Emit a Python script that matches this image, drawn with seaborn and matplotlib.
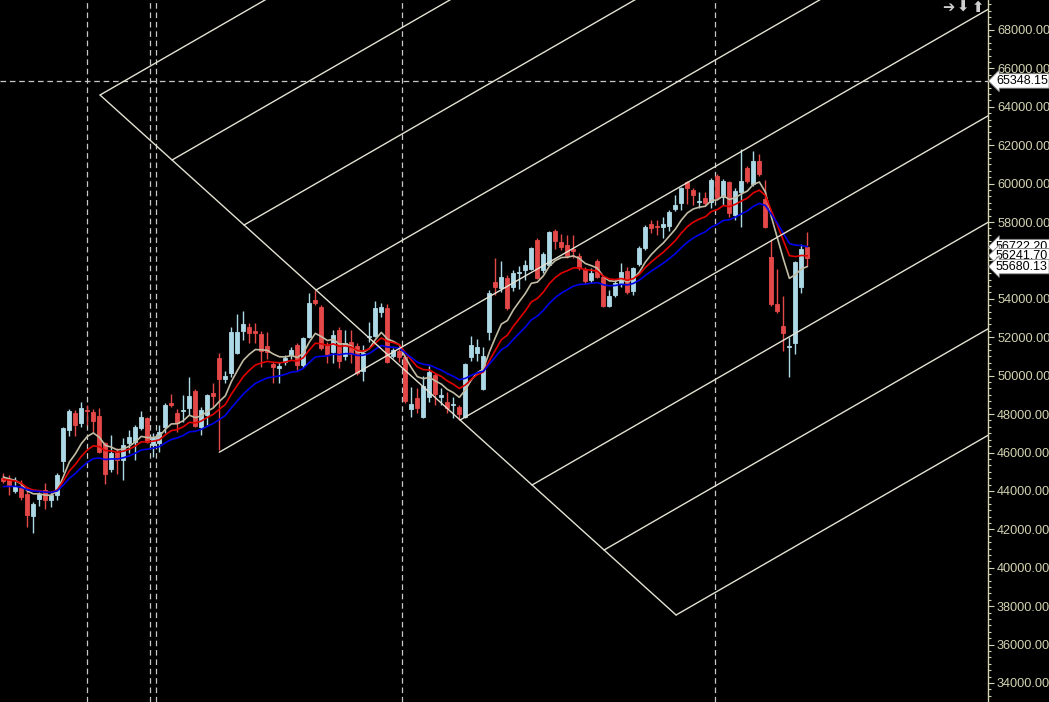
import numpy as np
import pandas as pd
import matplotlib
matplotlib.use("Agg")
import matplotlib.pyplot as plt
import matplotlib.transforms as mtransforms
from matplotlib.ticker import MultipleLocator, FormatStrFormatter
import seaborn as sns

# ---------------- data ----------------
opens = [44670, 44620, 44000, 44150, 43840, 42690, 43580, 44050, 43530, 43790,
         45560, 47170, 48050, 47540, 48210, 48110, 47900, 46500, 45140, 46030,
         45610, 46500, 46550, 47280, 47800, 46390, 46500, 47330, 48580, 48050,
         48160, 48320, 49200, 47330, 47950, 49100, 50920, 49830, 50140, 51180,
         52330, 52540, 52330, 52170, 51550, 50610, 50400, 50710, 51080, 51600,
         50560, 52010, 53940, 53580, 51600, 51230, 52380, 51030, 51750, 51550,
         50240, 52020, 52070, 53320, 53520, 51030, 51290, 50970, 48270, 48840,
         47850, 48890, 50040, 48890, 48630, 48470, 48370, 47850, 50970, 51180,
         49310, 52270, 54880, 54570, 55090, 54620, 55350, 55500, 55560, 57070,
         55500, 55760, 57530, 56960, 56800, 56600, 56230, 55560, 54990, 55970,
         55140, 53630, 54200, 54830, 55450, 54410, 55820, 56650, 57900, 57790,
         57740, 57790, 58680, 58990, 60090, 59670, 59040, 59250, 59040, 60400,
         59300, 60090, 58370, 59570, 60810, 59980, 61180, 59200, 56180, 53730,
         52590, 51490, 51700, 54620, 56700]
highs = [44930, 44830, 44720, 44570, 44200, 43420, 43940, 44410, 43940, 44930,
         47330, 48270, 48210, 48630, 48470, 48270, 48320, 46550, 46910, 46240,
         46760, 47170, 47430, 48160, 47850, 47020, 47430, 48580, 49050, 48270,
         48990, 49930, 49310, 48370, 49050, 49620, 51180, 50240, 52540, 53210,
         53370, 52740, 52740, 52330, 52270, 50710, 50710, 51080, 51490, 51700,
         52010, 54310, 54460, 53680, 51750, 52380, 52540, 52380, 52380, 51700,
         51600, 52800, 53890, 53790, 53730, 51440, 51440, 51080, 49410, 49360,
         49980, 50500, 50140, 49360, 49150, 48890, 48470, 50660, 52070, 51910,
         51490, 54460, 56130, 55970, 55240, 55500, 55710, 56020, 56700, 57170,
         56440, 57530, 57640, 57380, 57330, 57330, 56390, 55660, 55610, 56080,
         55200, 54460, 55040, 55870, 55660, 55660, 56750, 57850, 58110, 58110,
         58260, 58630, 59410, 59830, 60140, 59770, 59570, 59570, 60290, 60500,
         60240, 60140, 59770, 61800, 60920, 61700, 61540, 60190, 57120, 55560,
         54150, 52010, 55970, 56860, 57480]
lows = [44410, 43790, 43890, 43530, 42120, 41810, 43210, 43060, 43160, 43530,
        44990, 46860, 46860, 47330, 47430, 47020, 46000, 44360, 44990, 44880,
        44570, 45970, 45610, 47170, 46500, 45770, 46030, 47020, 48370, 47070,
        47590, 47950, 47330, 46910, 47430, 48370, 46130, 49620, 49930, 51130,
        51860, 51700, 51700, 50450, 50870, 49620, 49620, 50560, 50870, 50300,
        50400, 51960, 53680, 51340, 50660, 50660, 50400, 50820, 50660, 50040,
        49720, 51750, 52010, 53060, 50660, 50920, 50710, 48580, 47850, 48050,
        47800, 48630, 48470, 48470, 48050, 47800, 47690, 47800, 50770, 50770,
        49260, 51860, 54200, 54360, 53420, 54410, 54510, 54990, 55500, 55040,
        55350, 55710, 56600, 56550, 56130, 56130, 55500, 54830, 54830, 55090,
        53580, 53580, 54100, 54620, 54250, 54200, 55710, 56550, 57430, 57330,
        57170, 57530, 58580, 58630, 58940, 58890, 58730, 58890, 58730, 59200,
        58890, 58260, 58110, 57740, 60030, 59880, 60400, 57690, 53630, 53260,
        51290, 49930, 51130, 54310, 55710]
closes = [44520, 44310, 44260, 43680, 42750, 43320, 43840, 43530, 43790, 44830,
          47280, 48160, 47430, 48320, 48160, 47640, 46030, 44880, 45970, 45610,
          46390, 46810, 47330, 47850, 46550, 46810, 47070, 48470, 48470, 47540,
          48210, 48940, 47380, 48210, 48990, 48940, 49830, 49980, 52270, 52270,
          52690, 52220, 52220, 51290, 51230, 50450, 50500, 50920, 51340, 50560,
          51960, 53790, 53790, 51440, 51130, 52120, 50770, 51700, 51130, 50140,
          51180, 52070, 53520, 53580, 50710, 51340, 50970, 48680, 48530, 48320,
          49460, 50190, 49050, 48990, 48320, 48530, 48010, 50610, 51600, 51490,
          51030, 54310, 54620, 55140, 53520, 55350, 55400, 55760, 56650, 55090,
          56340, 57480, 57010, 56700, 56230, 56490, 55610, 54930, 55350, 55140,
          53630, 54150, 54830, 55400, 54360, 55610, 56650, 57740, 57690, 57740,
          57900, 58520, 58890, 59770, 59770, 59410, 59100, 58990, 60190, 59250,
          60140, 58470, 59620, 60140, 60140, 61180, 60500, 57740, 53730, 53370,
          52220, 51550, 55920, 56600, 56130]

ema_spans = [8, 13, 21]
ema_seeds = [44780, 44620, 44200]          # indicator levels at the left edge
ema_names = ["EMA 8", "EMA 13", "EMA 21"]
ema_colors = ["#c2bca4", "#e00000", "#0000e8"]

value_labels = ["56722.20", "56241.70", "55680.13"]
hline_label = "65348.15"
vline_bars = [14.0, 24.5, 25.5, 66.4, 118.6]

# pitchfork anchors (bar index, price)
fork_top = (16.12, 64615)
fork_bottom = (112.12, 37539)
fork_steps = 8
median_pivot = (36.0, 46016)
tine_slope = 180.0        # price per bar

y_min, y_max = 33009, 69562
x_min, x_max = -0.55, 164.1

# ---------------- figure ----------------
sns.set_theme(style="dark")
plt.rcParams["font.family"] = ["Liberation Sans", "DejaVu Sans"]

BG = "#000000"
AX_COL = "#d4d4b2"
UP = "#add8e6"
DOWN = "#e44848"
FORK = "#e4e2d2"

fig = plt.figure(figsize=(10.49, 7.02), dpi=100, facecolor=BG)
ax = fig.add_axes([0, 0, 988 / 1049, 1])
ax.set_facecolor(BG)

n = len(closes)
idx = np.arange(n)
df = pd.DataFrame({"bar": idx, "open": opens, "high": highs,
                   "low": lows, "close": closes})

# EMAs computed from closes
for name, span, seed in zip(ema_names, ema_spans, ema_seeds):
    a = 2.0 / (span + 1)
    vals = []
    prev = seed
    for c in df["close"]:
        prev = prev + a * (c - prev)
        vals.append(prev)
    df[name] = vals

up = df["close"] >= df["open"]
colors = np.where(up, UP, DOWN)

# dashed separators
for xb in vline_bars:
    ax.axvline(xb, color="#c8c8c8", lw=0.9, ls=(0, (4.5, 3)), zorder=1)
ax.axhline(float(hline_label), color="#c8c8c8", lw=0.9, ls=(0, (4.5, 3)),
           zorder=1)

# candles
ax.vlines(df["bar"], df["low"], df["high"], colors=colors, lw=1.0, zorder=2)
body_bottom = np.minimum(df["open"], df["close"])
body_h = np.abs(df["close"] - df["open"])
ax.bar(df["bar"], body_h, bottom=body_bottom, width=0.68, color=colors,
       edgecolor=colors, linewidth=0.6, zorder=3)

# moving averages via seaborn
long = df.melt(id_vars="bar", value_vars=ema_names, var_name="series",
               value_name="value")
sns.lineplot(data=long, x="bar", y="value", hue="series",
             palette=dict(zip(ema_names, ema_colors)), linewidth=1.2,
             legend=False, ax=ax, zorder=4)

# pitchfork drawing
(ti, tp), (bi, bp) = fork_top, fork_bottom
ax.plot([ti, bi], [tp, bp], color=FORK, lw=1.0, zorder=5)
for k in range(fork_steps + 1):
    if k == fork_steps // 2:
        continue
    i0 = ti + (bi - ti) * k / fork_steps
    p0 = tp + (bp - tp) * k / fork_steps
    ax.plot([i0, x_max], [p0, p0 + tine_slope * (x_max - i0)],
            color=FORK, lw=1.0, zorder=5)
mi, mp = median_pivot
ax.plot([mi, x_max], [mp, mp + tine_slope * (x_max - mi)],
        color=FORK, lw=1.0, zorder=5)

ax.set_xlim(x_min, x_max)
ax.set_ylim(y_min, y_max)

# right price axis
for s in ["top", "left", "bottom"]:
    ax.spines[s].set_visible(False)
ax.spines["right"].set_color(AX_COL)
ax.spines["right"].set_linewidth(1.0)
ax.yaxis.tick_right()
ax.yaxis.set_major_locator(MultipleLocator(2000))
ax.yaxis.set_minor_locator(MultipleLocator(2000 / 6))
ax.yaxis.set_major_formatter(FormatStrFormatter("%.2f"))
ax.tick_params(axis="y", which="major", direction="out", length=4,
               width=0.8, color=AX_COL, labelcolor=AX_COL, labelsize=9.2,
               pad=2.5)
ax.tick_params(axis="y", which="minor", direction="out", length=2,
               width=0.8, color=AX_COL)
ax.set_xticks([])
ax.set_xlabel("")
ax.set_ylabel("")
ax.grid(False)

# value boxes on the price axis (they overlap in the original too)
trans = mtransforms.blended_transform_factory(ax.transAxes, ax.transData)
box_labels = [hline_label] + value_labels
for z, lab in enumerate(box_labels):
    ax.text(1.0 + 8 / 988, float(lab), lab, transform=trans, ha="left",
            va="center", fontsize=9.0, color="black", clip_on=False,
            zorder=10 + z,
            bbox=dict(boxstyle="larrow,pad=0.1", fc="white", ec="#808080",
                      lw=0.6))

# navigation icons (top right)
for k, sym in enumerate(["➔", "⬇", "⬆"]):
    fig.text((948 + 15 * k) / 1049, 1 - 7.5 / 702, sym, color="#d0d0d0",
             fontsize=10.5, fontweight="bold", va="center", ha="center",
             family=["DejaVu Sans"])

fig.savefig("out.png", dpi=100, facecolor=BG)
